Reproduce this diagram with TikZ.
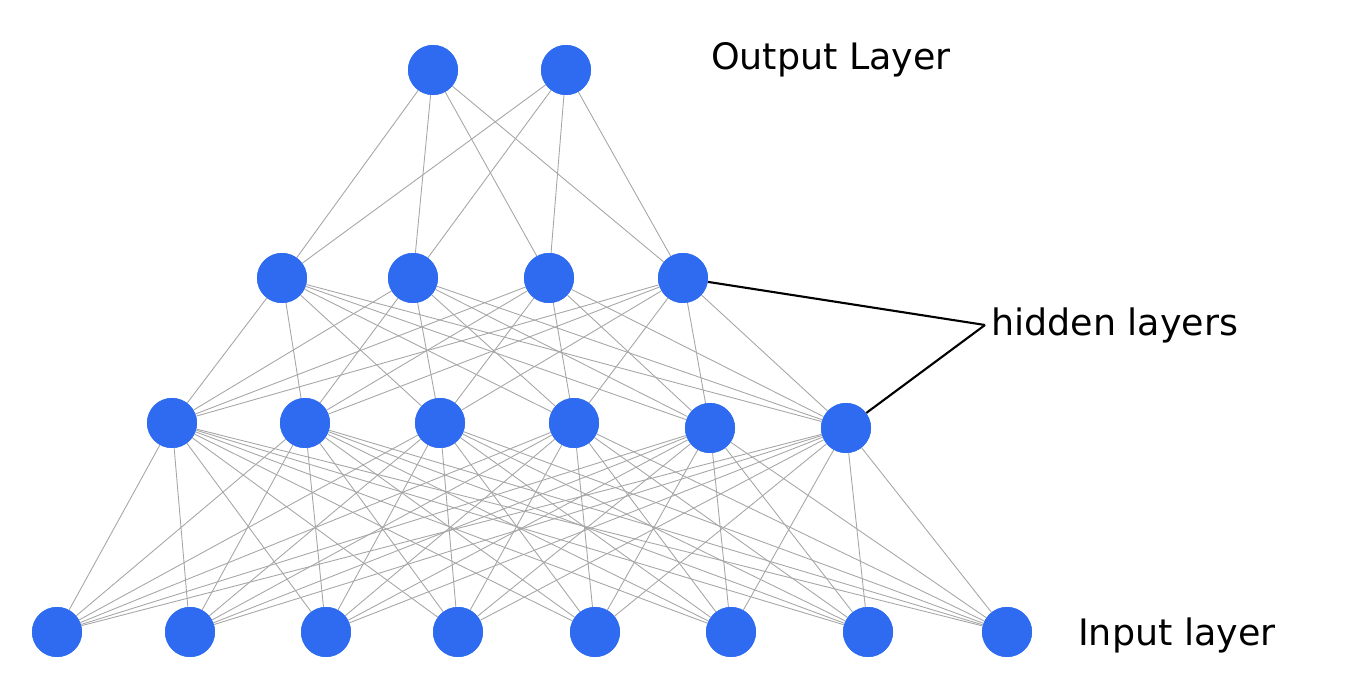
\documentclass[tikz,border=0pt]{standalone}
\usepackage{fontspec}
\setmainfont{DejaVu Sans}
\usetikzlibrary{positioning}
\definecolor{neuron}{RGB}{46,107,240}
\begin{document}
\begin{tikzpicture}[x=0.02cm,y=-0.02cm,
    unit/.style={circle,fill=neuron,minimum size=1cm,inner sep=0pt},
    link/.style={gray!70,line width=0.5pt},
    lbl/.style={font=\huge}]
  \useasboundingbox (0,0) rectangle (1366,682);
  % layers
  \foreach \x [count=\i] in {433,566} \node[unit] (o\i) at (\x,70) {};
  \foreach \x [count=\i] in {282,413,549,683} \node[unit] (a\i) at (\x,278) {};
  \foreach \x/\y [count=\i] in {172/423,305/423,440/423,574/423,710/428,846/428} \node[unit] (b\i) at (\x,\y) {};
  \foreach \x [count=\i] in {57,190,326,458,595,731,868,1007} \node[unit] (c\i) at (\x,632) {};
  % connections
  \foreach \i in {1,2} \foreach \j in {1,...,4} \draw[link] (o\i) -- (a\j);
  \foreach \i in {1,...,4} \foreach \j in {1,...,6} \draw[link] (a\i) -- (b\j);
  \foreach \i in {1,...,6} \foreach \j in {1,...,8} \draw[link] (b\i) -- (c\j);
  % redraw units on top
  \foreach \i in {1,2} \node[unit] at (o\i) {};
  \foreach \i in {1,...,4} \node[unit] at (a\i) {};
  \foreach \i in {1,...,6} \node[unit] at (b\i) {};
  \foreach \i in {1,...,8} \node[unit] at (c\i) {};
  % labels
  \node[lbl,anchor=west] (out) at (705,60) {Output Layer};
  \node[lbl,anchor=west] (hid) at (985,325) {hidden layers};
  \node[lbl,anchor=west] (inp) at (1072,635) {Input layer};
  \draw[line width=1.2pt] (a4) -- (hid.west);
  \draw[line width=1.2pt] (b6) -- (hid.west);
\end{tikzpicture}
\end{document}
